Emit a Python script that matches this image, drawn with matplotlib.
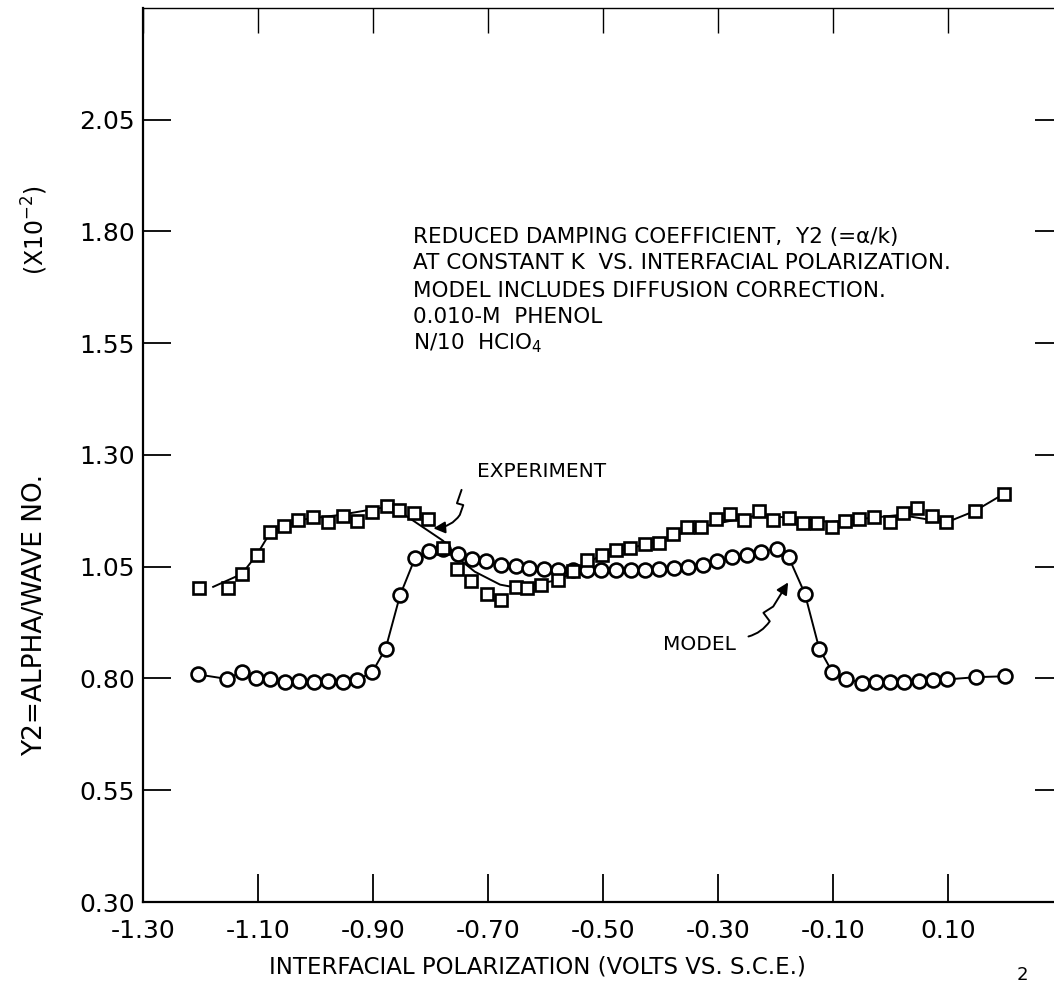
import matplotlib
matplotlib.use("Agg")
import matplotlib.pyplot as plt
from matplotlib.path import Path
from matplotlib.patches import FancyArrowPatch
import numpy as np

# ---------------- data ----------------
exp_x = [-1.202, -1.152, -1.128, -1.102, -1.080, -1.054, -1.030, -1.005, -0.979, -0.952,
         -0.927, -0.901, -0.876, -0.854, -0.828, -0.804, -0.778, -0.754, -0.730, -0.702,
         -0.678, -0.651, -0.632, -0.608, -0.578, -0.552, -0.527, -0.502, -0.477, -0.453,
         -0.427, -0.402, -0.378, -0.354, -0.330, -0.303, -0.279, -0.255, -0.229, -0.205,
         -0.177, -0.152, -0.127, -0.102, -0.079, -0.054, -0.029, -0.001, 0.021, 0.046,
         0.072, 0.097, 0.147, 0.198]
exp_y = [1.002, 1.002, 1.034, 1.077, 1.127, 1.141, 1.155, 1.162, 1.150, 1.164,
         1.152, 1.173, 1.187, 1.177, 1.170, 1.157, 1.092, 1.045, 1.019, 0.988,
         0.975, 1.004, 1.002, 1.010, 1.021, 1.040, 1.066, 1.077, 1.088, 1.093,
         1.101, 1.104, 1.124, 1.140, 1.140, 1.157, 1.169, 1.155, 1.175, 1.155,
         1.159, 1.148, 1.148, 1.140, 1.153, 1.157, 1.162, 1.149, 1.170, 1.181,
         1.164, 1.149, 1.175, 1.213]

# smooth curve drawn through the experimental points
exp_fit_x = [-1.178, -1.128, -1.102, -1.079, -1.053, -1.027, -0.957, -0.876, -0.853, -0.778,
             -0.749, -0.723, -0.679, -0.650, -0.575, -0.505, -0.401, -0.331, -0.227, -0.105,
             0.017, 0.097, 0.147, 0.197]
exp_fit_y = [1.005, 1.034, 1.077, 1.126, 1.141, 1.155, 1.166, 1.184, 1.173, 1.108,
             1.066, 1.039, 1.010, 1.003, 1.021, 1.075, 1.108, 1.139, 1.166, 1.150,
             1.166, 1.149, 1.175, 1.213]

mod_x = [-1.204, -1.154, -1.128, -1.103, -1.079, -1.053, -1.028, -1.003, -0.978, -0.953,
         -0.928, -0.901, -0.878, -0.853, -0.827, -0.802, -0.778, -0.753, -0.728, -0.704,
         -0.678, -0.651, -0.628, -0.603, -0.578, -0.552, -0.528, -0.504, -0.478, -0.452,
         -0.427, -0.402, -0.377, -0.352, -0.326, -0.301, -0.275, -0.250, -0.226, -0.198,
         -0.177, -0.149, -0.124, -0.101, -0.077, -0.050, -0.026, -0.001, 0.024, 0.050,
         0.074, 0.099, 0.149, 0.199]
mod_y = [0.809, 0.799, 0.815, 0.800, 0.798, 0.793, 0.794, 0.793, 0.794, 0.793,
         0.796, 0.815, 0.867, 0.986, 1.069, 1.086, 1.090, 1.078, 1.067, 1.062,
         1.054, 1.051, 1.047, 1.045, 1.043, 1.043, 1.043, 1.043, 1.043, 1.043,
         1.043, 1.045, 1.047, 1.050, 1.054, 1.062, 1.071, 1.077, 1.084, 1.090,
         1.071, 0.990, 0.867, 0.814, 0.799, 0.790, 0.792, 0.792, 0.792, 0.794,
         0.796, 0.798, 0.803, 0.805]

x_ticks = [-1.30, -1.10, -0.90, -0.70, -0.50, -0.30, -0.10, 0.10, 0.30]
x_tick_labels = ["-1.30", "-1.10", "-0.90", "-0.70", "-0.50", "-0.30", "-0.10", "0.10", ""]
y_ticks = [0.30, 0.55, 0.80, 1.05, 1.30, 1.55, 1.80, 2.05]
y_tick_labels = ["0.30", "0.55", "0.80", "1.05", "1.30", "1.55", "1.80", "2.05"]

info_lines = ["REDUCED DAMPING COEFFICIENT,  Y2 (=\u03b1/k)",
              "AT CONSTANT K  VS. INTERFACIAL POLARIZATION.",
              "MODEL INCLUDES DIFFUSION CORRECTION.",
              "0.010-M  PHENOL",
              "N/10  HClO$_4$"]

# ---------------- figure ----------------
plt.rcParams['font.family'] = ['DejaVu Sans']
W, H = 1054, 985
fig = plt.figure(figsize=(W / 100, H / 100), dpi=100)
ax = fig.add_axes([143 / W, (H - 902) / H, (1063 - 143) / W, (902 - 8) / H])
ax.set_xlim(-1.30, 0.30)
ax.set_ylim(0.30, 2.30)

for s in ax.spines.values():
    s.set_linewidth(1.6)
ax.spines['top'].set_linewidth(1.0)

ax.set_xticks(x_ticks)
ax.set_xticklabels(x_tick_labels, fontsize=18)
ax.set_yticks(y_ticks)
ax.set_yticklabels(y_tick_labels, fontsize=18)
ax.tick_params(axis='both', direction='in', length=20, width=1.3,
               right=True)
ax.tick_params(axis='x', pad=12)
ax.tick_params(axis='y', pad=6)
ax.tick_params(axis='x', which='major', top=True)
for t in ax.xaxis.get_major_ticks():
    t.tick2line.set_linestyle((0, (3, 2)))
    t.tick2line.set_markersize(18)
    t.tick2line.set_markeredgewidth(1.0)

# experiment curve and points
ax.plot(exp_fit_x, exp_fit_y, color='black', lw=1.4, zorder=2)
ax.plot(mod_x, mod_y, color='black', lw=1.4, zorder=2)
ax.plot(mod_x, mod_y, linestyle='none', marker='o', ms=10, mew=1.9,
        mfc='white', mec='black', zorder=3)
ax.plot(exp_x, exp_y, linestyle='none', marker='s', ms=9, mew=1.9,
        mfc='white', mec='black', zorder=4)

# text block
info_y = [1.787, 1.729, 1.668, 1.608, 1.550]
for t, yy in zip(info_lines, info_y):
    ax.text(-0.830, yy, t, fontsize=15.5, va='center', ha='left')

ax.text(-0.719, 1.262, "EXPERIMENT", fontsize=14.5, va='center', ha='left')
ax.text(-0.396, 0.876, "MODEL", fontsize=14.5, va='center', ha='left')

# squiggle arrows
exp_arrow = Path([(-0.746, 1.222), (-0.754, 1.192), (-0.743, 1.188), (-0.749, 1.166),
                  (-0.763, 1.139), (-0.795, 1.136)],
                 [Path.MOVETO, Path.LINETO, Path.LINETO, Path.LINETO, Path.CURVE3, Path.CURVE3])
ax.add_patch(FancyArrowPatch(path=exp_arrow, arrowstyle='-|>,head_length=7,head_width=3.5',
                             color='black', lw=1.4, zorder=5))
mod_arrow = Path([(-0.247, 0.894), (-0.224, 0.902), (-0.210, 0.928), (-0.221, 0.947),
                  (-0.204, 0.961), (-0.178, 1.015)],
                 [Path.MOVETO, Path.CURVE3, Path.CURVE3, Path.LINETO, Path.LINETO, Path.LINETO])
ax.add_patch(FancyArrowPatch(path=mod_arrow, arrowstyle='-|>,head_length=7,head_width=3.5',
                             color='black', lw=1.4, zorder=5))

# axis labels
fig.text(35 / W, 1 - 615 / H, "Y2=ALPHA/WAVE NO.", rotation=90, fontsize=19,
         ha='center', va='center')
fig.text(35 / W, 1 - 230 / H, "(X10$^{-2}$)", rotation=90, fontsize=17,
         ha='center', va='center')
fig.text(537 / W, 1 - 967 / H, "INTERFACIAL POLARIZATION (VOLTS VS. S.C.E.)",
         fontsize=16.5, ha='center', va='center')
fig.text(1022 / W, 1 / H, "2", fontsize=13, ha='center', va='bottom')

fig.savefig("out.png", dpi=100)
